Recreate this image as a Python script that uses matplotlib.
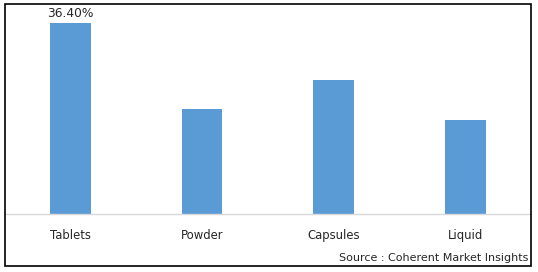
import matplotlib
matplotlib.use("Agg")
import matplotlib.pyplot as plt
from matplotlib.patches import Rectangle

categories = ["Tablets", "Powder", "Capsules", "Liquid"]
values = [36.40, 20.07, 25.54, 17.9]
value_labels = ["36.40%", "", "", ""]
source_text = "Source : Coherent Market Insights"

W, H = 538, 272
fig = plt.figure(figsize=(W / 100, H / 100), dpi=100)

base_y = 214
top_y = 5
ax = fig.add_axes([4.5 / W, (H - base_y) / H, 526.5 / W, (base_y - top_y) / H])
ax.bar(range(len(categories)), values, width=0.31, color="#5b9bd5")
ax.set_xlim(-0.5, len(categories) - 0.5)
ax.set_ylim(0, values[0] * (base_y - top_y) / (base_y - 23))
for s in ["top", "right", "left"]:
    ax.spines[s].set_visible(False)
ax.spines["bottom"].set_color("#d9d9d9")
ax.spines["bottom"].set_linewidth(1)
ax.set_yticks([])
ax.set_xticks(range(len(categories)))
ax.set_xticklabels(categories, fontsize=8.4, color="#262626")
ax.tick_params(axis="x", length=0, pad=11)
for i, (v, lab) in enumerate(zip(values, value_labels)):
    if lab:
        ax.annotate(lab, (i, v), xytext=(0, 2), textcoords="offset points",
                    ha="center", va="bottom", fontsize=8.8, color="#262626")

fig.text(528 / W, (H - 258) / H, source_text, ha="right", va="center",
         fontsize=8, color="#262626")

fig.patches.append(Rectangle((5 / W, (H - 266) / H), 526 / W, 262 / H,
                             transform=fig.transFigure, fill=False,
                             edgecolor="black", linewidth=1.2))

fig.savefig("out.png", dpi=100)
